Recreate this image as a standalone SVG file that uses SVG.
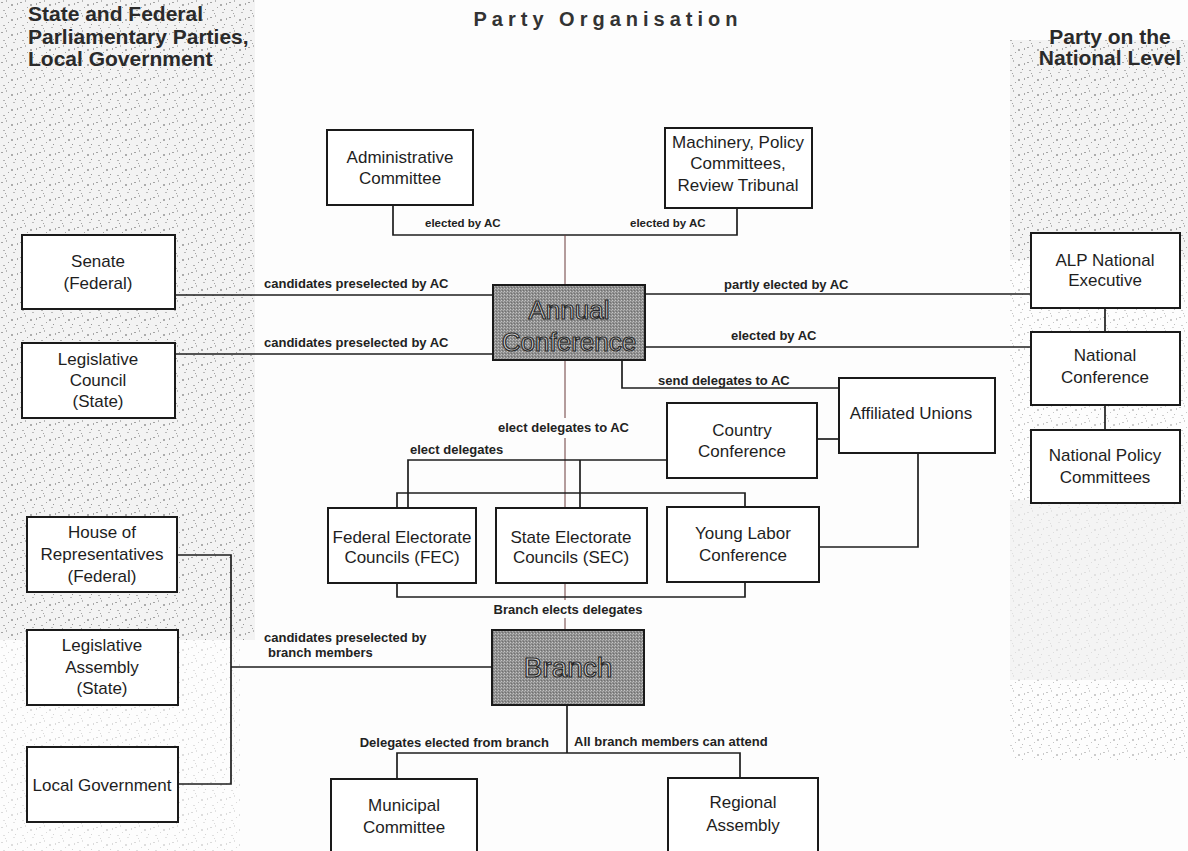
<svg xmlns="http://www.w3.org/2000/svg" width="1188" height="851" viewBox="0 0 1188 851">
<style>
.box{fill:#fff;stroke:#1a1a1a;stroke-width:2}
.shade{fill:url(#dither);stroke:#1a1a1a;stroke-width:2}
.bx{font-family:"Liberation Sans",Arial,sans-serif;font-size:17px;fill:#1e1e1e;text-anchor:middle}
.lb{font-family:"Liberation Sans",Arial,sans-serif;font-size:13px;font-weight:bold;fill:#222}
.sm{font-size:11.5px}
.hd{font-family:"Liberation Sans",Arial,sans-serif;font-size:21px;font-weight:bold;fill:#2a2a2a}
.big{font-family:"Liberation Sans",Arial,sans-serif;fill:#d4d4d4;stroke:#2a2a2a;stroke-width:1.2;text-anchor:middle}
.ln{fill:none;stroke:#1e1e1e;stroke-width:1.7}
.red{fill:none;stroke:#6b3a3a;stroke-width:1}
</style>
<defs>
<pattern id="dither" width="3" height="3" patternUnits="userSpaceOnUse">
<rect width="3" height="3" fill="#8e8e8e"/>
<rect x="0" y="0" width="1" height="1" fill="#c4c4c4"/>
<rect x="2" y="1" width="1" height="1" fill="#b0b0b0"/>
<rect x="1" y="2" width="1" height="1" fill="#707070"/>
</pattern>
<pattern id="speck" width="19" height="15" patternUnits="userSpaceOnUse">
<rect x="1" y="2" width="2" height="1" fill="#9a9a9a"/>
<rect x="6" y="0" width="1" height="2" fill="#b0b0b0"/>
<rect x="11" y="4" width="2" height="2" fill="#a4a4a4"/>
<rect x="15" y="9" width="1" height="1" fill="#888"/>
<rect x="3" y="10" width="2" height="1" fill="#aaa"/>
<rect x="8" y="7" width="1" height="1" fill="#999"/>
<rect x="13" y="12" width="2" height="1" fill="#b4b4b4"/>
<rect x="17" y="3" width="1" height="2" fill="#a0a0a0"/>
<rect x="5" y="13" width="1" height="1" fill="#999"/>
</pattern>
</defs>
<rect width="1188" height="851" fill="#fdfdfd"/>
<g id="texture">
<rect x="0" y="0" width="255" height="640" fill="#ececec" opacity="0.6"/>
<rect x="0" y="0" width="255" height="640" fill="url(#speck)" opacity="0.9"/>
<rect x="0" y="640" width="240" height="211" fill="url(#speck)" opacity="0.35"/>
<rect x="1010" y="40" width="178" height="220" fill="#ececec" opacity="0.6"/>
<rect x="1010" y="40" width="178" height="220" fill="url(#speck)" opacity="0.9"/>
<rect x="1010" y="260" width="178" height="500" fill="url(#speck)" opacity="0.55"/>
<rect x="1010" y="500" width="178" height="180" fill="#efefef" opacity="0.6"/>
</g>
<g id="headers">
<text class="hd" x="28" y="21">State and Federal</text>
<text class="hd" x="28" y="44">Parliamentary Parties,</text>
<text class="hd" x="28" y="66">Local Government</text>
<text class="hd" x="608" y="26" text-anchor="middle" style="font-size:20px;letter-spacing:5px;fill:#333">Party Organisation</text>
<text class="hd" x="1110" y="44" text-anchor="middle">Party on the</text>
<text class="hd" x="1110" y="65" text-anchor="middle">National Level</text>
</g>
<g id="connectors">
<polyline class="ln" points="393,205 393,235 737,235 737,208"/>
<line class="red" x1="565" y1="235" x2="565" y2="285"/>
<line class="red" x1="565" y1="360" x2="565" y2="418"/>
<line class="red" x1="565" y1="438" x2="565" y2="600"/>
<line class="red" x1="565" y1="618" x2="565" y2="630"/>
<line class="ln" x1="175" y1="295" x2="493" y2="295"/>
<line class="ln" x1="175" y1="354" x2="493" y2="354"/>
<line class="ln" x1="645" y1="294" x2="1031" y2="294"/>
<line class="ln" x1="645" y1="347" x2="1031" y2="347"/>
<polyline class="ln" points="622,360 622,388 839,388"/>
<line class="ln" x1="1105" y1="308" x2="1105" y2="332"/>
<line class="ln" x1="1105" y1="405" x2="1105" y2="430"/>
<line class="ln" x1="817" y1="439" x2="839" y2="439"/>
<polyline class="ln" points="819,547 918,547 918,453"/>
<polyline class="ln" points="667,460 408,460 408,508"/>
<line class="ln" x1="580" y1="460" x2="580" y2="508"/>
<polyline class="ln" points="397,508 397,493 745,493 745,507"/>
<polyline class="ln" points="397,583 397,597 745,597 745,582"/>
<polyline class="ln" points="177,555 231,555 231,784 178,784"/>
<line class="ln" x1="231" y1="667" x2="492" y2="667"/>
<line class="ln" x1="567" y1="705" x2="567" y2="753"/>
<polyline class="ln" points="397,779 397,753 740,753 740,778"/>
<text class="lb sm" x="425" y="227">elected by AC</text>
<text class="lb sm" x="630" y="227">elected by AC</text>
<text class="lb" x="264" y="288">candidates preselected by AC</text>
<text class="lb" x="264" y="347">candidates preselected by AC</text>
<text class="lb" x="724" y="289">partly elected by AC</text>
<text class="lb" x="731" y="340">elected by AC</text>
<text class="lb" x="658" y="385">send  delegates to AC</text>
<text class="lb" x="498" y="432">elect  delegates to AC</text>
<text class="lb" x="410" y="454">elect  delegates</text>
<text class="lb" x="568" y="614" text-anchor="middle">Branch elects delegates</text>
<text class="lb" x="264" y="642">candidates preselected by</text>
<text class="lb" x="268" y="657">branch members</text>
<text class="lb" x="549" y="747" text-anchor="end">Delegates elected from branch</text>
<text class="lb" x="574" y="746">All branch members can attend</text>
</g>
<g id="admin"><rect class="box" x="327" y="130" width="146" height="75"/><text class="bx" x="400" y="163">Administrative</text><text class="bx" x="400" y="184">Committee</text></g>
<g id="machinery"><rect class="box" x="665" y="128" width="147" height="80"/><text class="bx" x="738" y="148">Machinery, Policy</text><text class="bx" x="738" y="169">Committees,</text><text class="bx" x="738" y="191">Review Tribunal</text></g>
<g id="senate"><rect class="box" x="22" y="235" width="153" height="74"/><text class="bx" x="98" y="267">Senate</text><text class="bx" x="98" y="289">(Federal)</text></g>
<g id="legcouncil"><rect class="box" x="22" y="343" width="153" height="75"/><text class="bx" x="98" y="365">Legislative</text><text class="bx" x="98" y="386">Council</text><text class="bx" x="98" y="407">(State)</text></g>
<g id="house"><rect class="box" x="27" y="517" width="150" height="75"/><text class="bx" x="102" y="538">House of</text><text class="bx" x="102" y="560">Representatives</text><text class="bx" x="102" y="582">(Federal)</text></g>
<g id="legassembly"><rect class="box" x="27" y="630" width="151" height="75"/><text class="bx" x="102" y="651">Legislative</text><text class="bx" x="102" y="673">Assembly</text><text class="bx" x="102" y="694">(State)</text></g>
<g id="localgov"><rect class="box" x="27" y="747" width="151" height="75"/><text class="bx" x="102" y="791">Local Government</text></g>
<g id="annual"><rect class="shade" x="493" y="285" width="152" height="75"/><text class="big" x="569" y="319" style="font-size:26px">Annual</text><text class="big" x="569" y="351" style="font-size:26px">Conference</text></g>
<g id="affiliated"><rect class="box" x="839" y="378" width="156" height="75"/><text class="bx" x="911" y="419">Affiliated Unions</text></g>
<g id="country"><rect class="box" x="667" y="403" width="150" height="75"/><text class="bx" x="742" y="436">Country</text><text class="bx" x="742" y="457">Conference</text></g>
<g id="fec"><rect class="box" x="328" y="508" width="148" height="75"/><text class="bx" x="402" y="543">Federal Electorate</text><text class="bx" x="402" y="563">Councils (FEC)</text></g>
<g id="sec"><rect class="box" x="496" y="508" width="151" height="75"/><text class="bx" x="571" y="543">State Electorate</text><text class="bx" x="571" y="563">Councils (SEC)</text></g>
<g id="younglabor"><rect class="box" x="667" y="507" width="152" height="75"/><text class="bx" x="743" y="539">Young Labor</text><text class="bx" x="743" y="561">Conference</text></g>
<g id="alpexec"><rect class="box" x="1031" y="233" width="149" height="75"/><text class="bx" x="1105" y="266">ALP National</text><text class="bx" x="1105" y="286">Executive</text></g>
<g id="natconf"><rect class="box" x="1031" y="332" width="149" height="73"/><text class="bx" x="1105" y="361">National</text><text class="bx" x="1105" y="383">Conference</text></g>
<g id="natpolicy"><rect class="box" x="1031" y="430" width="149" height="73"/><text class="bx" x="1105" y="461">National Policy</text><text class="bx" x="1105" y="483">Committees</text></g>
<g id="branch"><rect class="shade" x="492" y="630" width="152" height="75"/><text class="big" x="568" y="677" style="font-size:28px">Branch</text></g>
<g id="municipal"><rect class="box" x="331" y="779" width="146" height="80"/><text class="bx" x="404" y="811">Municipal</text><text class="bx" x="404" y="833">Committee</text></g>
<g id="regional"><rect class="box" x="668" y="778" width="150" height="80"/><text class="bx" x="743" y="808">Regional</text><text class="bx" x="743" y="831">Assembly</text></g>
</svg>
